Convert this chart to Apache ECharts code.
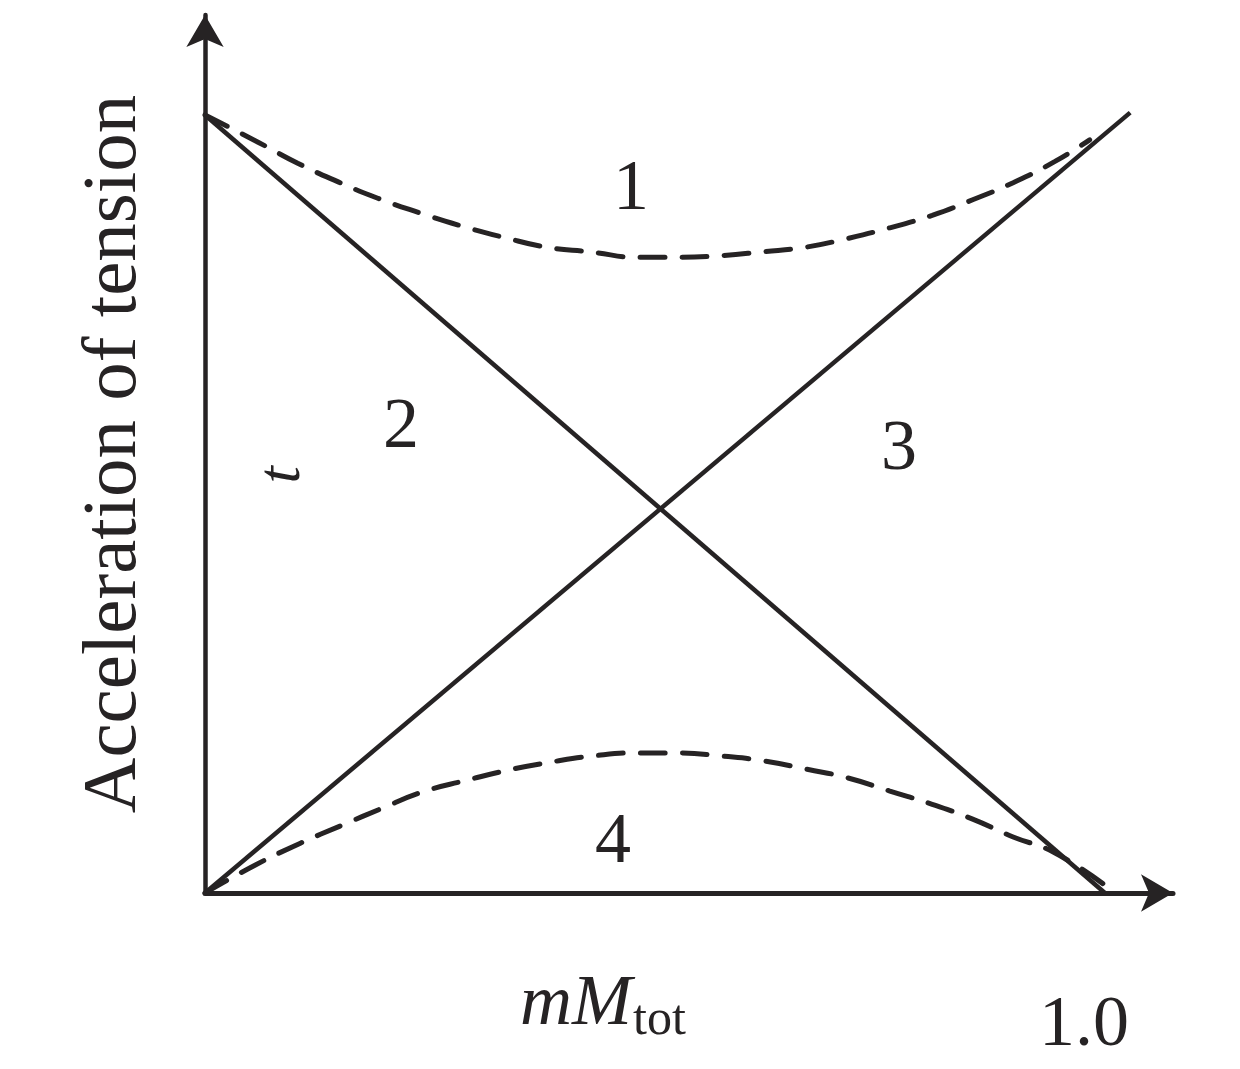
<!DOCTYPE html>
<html><head><meta charset="utf-8">
<script src="https://cdn.jsdelivr.net/npm/echarts@6/dist/echarts.min.js"></script>
<style>html,body{margin:0;padding:0;background:#fff}#c{width:1240px;height:1069px}</style>
</head><body><div id="c"></div>
<script>
// ---- data ----
const xTickValues = [1.0];
const xTickLabels = ['1.0'];
const yAxisTitle = 'Acceleration of tension';
const xTitleMain = 'mM';
const xTitleSub = 'tot';
const regionLabels = ['1', '2', '3', '4'];
const tensionSymbol = 't';

const fallX = [0, 1.0];
const fallY = [1.0, 0.0];
const riseX = [0, 1.028];
const riseY = [0, 1.003];
const topX = [0, 0.059, 0.103, 0.148, 0.192, 0.239, 0.286, 0.331, 0.380, 0.428, 0.483, 0.522, 0.570, 0.619, 0.667, 0.713, 0.761, 0.808, 0.853, 0.898, 0.944, 0.983];
const topY = [1.0, 0.965, 0.938, 0.914, 0.893, 0.874, 0.857, 0.843, 0.830, 0.824, 0.817, 0.817, 0.819, 0.824, 0.830, 0.841, 0.855, 0.871, 0.891, 0.913, 0.940, 0.968];
const botX = [0, 0.056, 0.106, 0.152, 0.197, 0.242, 0.291, 0.337, 0.383, 0.430, 0.480, 0.526, 0.574, 0.620, 0.669, 0.714, 0.761, 0.808, 0.853, 0.898, 0.942, 1.0];
const botY = [0, 0.036, 0.064, 0.087, 0.109, 0.130, 0.145, 0.158, 0.168, 0.176, 0.180, 0.180, 0.176, 0.170, 0.159, 0.148, 0.131, 0.114, 0.095, 0.072, 0.053, 0.010];

// ---- build ----
const ink = '#262324';
const serif = '"Liberation Serif", "DejaVu Serif", serif';
const zip = (xs, ys) => xs.map((x, i) => [x, ys[i]]);

const chart = echarts.init(document.getElementById('c'));
const solid = (name, xs, ys) => ({
  name, type: 'line', data: zip(xs, ys), showSymbol: false,
  lineStyle: { color: ink, width: 4.5 }, silent: true, animation: false
});
const dashed = (name, xs, ys) => ({
  name, type: 'line', data: zip(xs, ys), showSymbol: false, smooth: true,
  lineStyle: { color: ink, width: 5, type: [25, 17], cap: 'round' }, silent: true, animation: false
});

const txt = (text, x, y, size) => ({
  type: 'text', x, y, silent: true,
  style: { text, font: size + 'px ' + serif, fill: ink, align: 'center', verticalAlign: 'middle' }
});

chart.setOption({
  animation: false,
  backgroundColor: '#fff',
  grid: { left: 205, right: 67, top: 15, bottom: 176, containLabel: false },
  xAxis: {
    type: 'value', min: 0, max: 1.0756,
    axisLine: { show: true, onZero: false, symbol: ['none', 'arrow'], symbolSize: [28, 32], lineStyle: { color: ink, width: 5 } },
    axisTick: { show: false }, splitLine: { show: false },
    axisLabel: {
      customValues: xTickValues,
      formatter: (v) => xTickLabels[xTickValues.indexOf(v)] || '',
      margin: 97, fontSize: 72, fontFamily: serif, color: ink, padding: [0, 42, 0, 0]
    }
  },
  yAxis: {
    type: 'value', min: 0, max: 1.1285,
    name: yAxisTitle, nameLocation: 'middle', nameGap: 52, nameRotate: 90,
    nameTextStyle: { fontSize: 77, fontFamily: serif, color: ink },
    axisLine: { show: true, onZero: false, symbol: ['none', 'arrow'], symbolSize: [28, 32], lineStyle: { color: ink, width: 4.5 } },
    axisTick: { show: false }, splitLine: { show: false }, axisLabel: { show: false }
  },
  graphic: [
    txt(regionLabels[0], 631, 190, 72),
    txt(regionLabels[1], 401, 428, 72),
    txt(regionLabels[2], 899, 450, 72),
    txt(regionLabels[3], 613, 843, 72),
    {
      type: 'text', x: 283, y: 475, rotation: Math.PI / 2, silent: true,
      style: { text: tensionSymbol, font: 'italic 62px ' + serif, fill: ink, align: 'center', verticalAlign: 'middle' }
    },
    {
      type: 'text', x: 520, y: 1005, silent: true,
      style: { text: xTitleMain, font: 'italic 72px ' + serif, fill: ink, align: 'left', verticalAlign: 'middle' }
    },
    {
      type: 'text', x: 633, y: 1021, silent: true,
      style: { text: xTitleSub, font: '50px ' + serif, fill: ink, align: 'left', verticalAlign: 'middle' }
    }
  ],
  series: [
    solid('fall', fallX, fallY),
    solid('rise', riseX, riseY),
    dashed('upper', topX, topY),
    dashed('lower', botX, botY)
  ]
});
</script>
</body></html>
